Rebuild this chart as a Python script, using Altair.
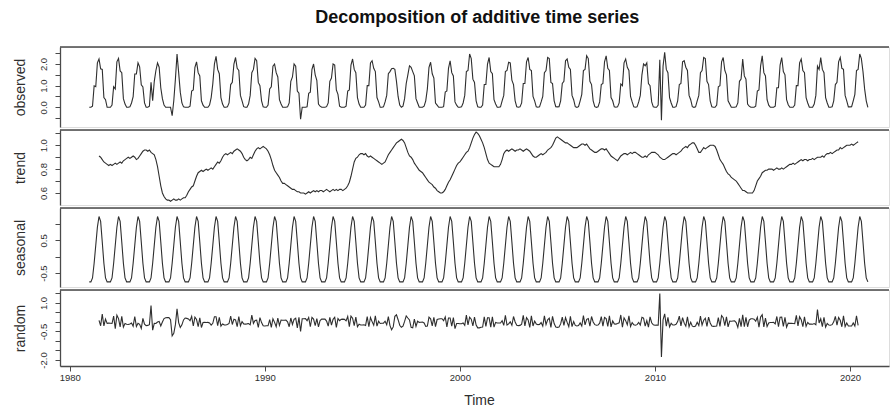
import altair as alt
import pandas as pd

# ---------------- data ----------------
start_year = 1981

seasonal_pattern = [-0.77, -0.77, -0.65, -0.2, 0.35, 0.9, 1.23, 1.08, 0.45, -0.2, -0.65, -0.77]

observed_rows = [
    [0, 0, 0.05, 0.99, 0.95, 2.05, 2.23, 1.78, 1.75, 0.45, 0.35, 0],     # 1981
    [0, 0, 0.1, 0.95, 0.85, 2.1, 2.26, 1.68, 1.6, 0.4, 0.15, 0],         # 1982
    [0, 0.02, 0.2, 0.49, 1.54, 1.54, 2.05, 1.87, 1.04, 0.94, 0.2, 0],    # 1983
    [0, 0.05, 1.15, 0.3, 1.2, 1.7, 2.05, 1.85, 0.9, 0.4, 0.1, 0],        # 1984
    [0, 0, 0, -0.39, 0.3, 1.3, 2.46, 1.6, 0.7, 0.2, 0.02, 0],            # 1985
    [0, 0, 0.05, 0.75, 0.8, 1.85, 2.1, 1.6, 1.45, 0.3, 0.1, 0],          # 1986
    [0, 0, 0.1, 0.45, 1.08, 2.0, 2.35, 1.75, 1.55, 0.45, 0.15, 0],       # 1987
    [0, 0.02, 0.2, 1.05, 1.15, 2.0, 2.3, 1.8, 1.7, 0.55, 0.3, 0.03],     # 1988
    [0, 0, 0.15, 0.55, 1.6, 1.75, 2.26, 2.15, 1.15, 1.0, 0.3, 0.02],     # 1989
    [0, 0, 0.1, 0.85, 0.95, 1.9, 2.0, 1.6, 1.4, 0.35, 0.15, 0],          # 1990
    [0, 0, 0.02, 0.2, 1.2, 1.4, 2.0, 1.9, 0.75, 0.65, -0.55, 0],         # 1991
    [0, 0, 0.02, 0.65, 0.7, 1.75, 2.0, 1.5, 1.25, 0.15, 0.05, 0],        # 1992
    [0, 0, 0.03, 0.2, 1.2, 1.35, 2.0, 1.95, 0.8, 0.6, 0.05, 0],          # 1993
    [0, 0, 0.05, 0.75, 0.8, 1.95, 2.23, 1.75, 1.6, 0.45, 0.15, 0],       # 1994
    [0, 0, 0.1, 1.0, 1.0, 2.05, 2.15, 1.8, 1.65, 0.45, 0.25, 0],         # 1995
    [0, 0.02, 0.25, 0.55, 1.55, 1.65, 1.78, 1.8, 1.75, 1.2, 0.5, 0.1],   # 1996
    [0, 0.05, 0.4, 1.1, 1.5, 1.92, 1.85, 1.65, 1.45, 0.4, 0.2, 0],       # 1997
    [0, 0, 0.05, 0.3, 0.85, 1.85, 2.08, 1.55, 1.35, 0.2, 0.1, 0],        # 1998
    [0, 0, 0.03, 0.7, 0.75, 1.8, 2.15, 1.6, 1.45, 0.25, 0.1, 0],         # 1999
    [0, 0.02, 0.2, 0.55, 1.65, 1.7, 2.46, 2.25, 1.3, 1.15, 0.3, 0.02],   # 2000
    [0, 0, 0.1, 1.05, 1.05, 2.0, 2.3, 1.65, 1.55, 0.35, 0.15, 0],        # 2001
    [0, 0.02, 0.3, 0.55, 1.65, 1.7, 2.08, 2.05, 1.25, 1.05, 0.3, 0.02],  # 2002
    [0, 0.02, 0.2, 1.1, 1.1, 2.1, 2.3, 1.75, 1.7, 0.5, 0.3, 0.02],       # 2003
    [0, 0.02, 0.25, 0.5, 1.6, 1.7, 2.3, 2.25, 1.15, 1.1, 0.3, 0.03],     # 2004
    [0.02, 0.03, 0.3, 1.1, 1.2, 2.15, 2.23, 1.85, 1.75, 0.55, 0.35, 0.03],  # 2005
    [0, 0.03, 0.3, 0.6, 1.7, 1.75, 2.38, 2.25, 1.2, 1.05, 0.3, 0.03],    # 2006
    [0, 0.02, 0.25, 1.05, 1.1, 2.1, 2.38, 1.8, 1.7, 0.45, 0.3, 0.02],    # 2007
    [0, 0.02, 0.2, 1.08, 1.0, 2.05, 2.23, 1.85, 1.7, 0.5, 0.25, 0.02],   # 2008
    [0, 0.02, 0.25, 0.55, 1.5, 2.0, 1.92, 2.05, 1.1, 1.0, 0.25, 0.02],   # 2009
    [0, 0, 0.1, 2.2, -0.6, 1.9, 2.54, 1.75, 1.6, 0.45, 0.2, 0],          # 2010
    [0, 0.03, 0.3, 1.05, 1.1, 2.1, 2.15, 1.85, 1.7, 0.55, 0.35, 0.03],   # 2011
    [0, 0.02, 0.3, 0.55, 1.6, 1.7, 2.3, 2.25, 1.2, 1.05, 0.3, 0.02],     # 2012
    [0, 0, 0.1, 0.95, 1.0, 2.1, 2.3, 1.7, 1.5, 0.3, 0.15, 0],            # 2013
    [0, 0, 0.02, 0.2, 1.2, 1.3, 2.23, 1.45, 1.3, 0.15, 0.05, 0],         # 2014
    [0, 0, 0.05, 0.75, 0.8, 1.9, 2.38, 1.6, 1.45, 0.35, 0.1, 0],         # 2015
    [0, 0, 0.05, 0.9, 0.9, 1.95, 2.3, 1.65, 1.5, 0.35, 0.12, 0],         # 2016
    [0, 0, 0.1, 1.0, 1.0, 2.05, 2.23, 1.7, 1.6, 0.45, 0.2, 0],           # 2017
    [0, 0, 0.15, 0.55, 1.9, 1.75, 2.3, 1.75, 1.6, 0.45, 0.2, 0],         # 2018
    [0, 0.02, 0.3, 1.05, 1.15, 2.1, 2.3, 1.8, 1.75, 0.55, 0.3, 0.02],    # 2019
    [0.02, 0.03, 0.3, 0.6, 1.7, 1.75, 2.46, 2.25, 1.65, 0.85, 0.3, 0.0], # 2020
]

trend_rows = [
    [None, None, None, None, None, None, 0.91, 0.90, 0.88, 0.86, 0.85, 0.84],  # 1981
    [0.83, 0.84, 0.83, 0.84, 0.85, 0.84, 0.85, 0.86, 0.85, 0.87, 0.88, 0.89],  # 1982
    [0.90, 0.89, 0.90, 0.91, 0.90, 0.88, 0.89, 0.91, 0.93, 0.95, 0.96, 0.96],  # 1983
    [0.95, 0.96, 0.94, 0.93, 0.92, 0.88, 0.82, 0.74, 0.66, 0.60, 0.57, 0.55],  # 1984
    [0.54, 0.54, 0.53, 0.54, 0.55, 0.54, 0.54, 0.55, 0.54, 0.55, 0.56, 0.56],  # 1985
    [0.58, 0.61, 0.63, 0.65, 0.66, 0.70, 0.74, 0.77, 0.78, 0.79, 0.78, 0.79],  # 1986
    [0.80, 0.79, 0.80, 0.81, 0.80, 0.82, 0.84, 0.86, 0.85, 0.87, 0.90, 0.92],  # 1987
    [0.93, 0.92, 0.93, 0.94, 0.93, 0.95, 0.96, 0.97, 0.96, 0.95, 0.93, 0.90],  # 1988
    [0.88, 0.87, 0.88, 0.90, 0.89, 0.92, 0.95, 0.97, 0.98, 0.97, 0.98, 0.99],  # 1989
    [0.98, 0.97, 0.95, 0.92, 0.88, 0.83, 0.79, 0.77, 0.75, 0.73, 0.70, 0.68],  # 1990
    [0.68, 0.67, 0.66, 0.65, 0.64, 0.63, 0.63, 0.62, 0.61, 0.61, 0.60, 0.60],  # 1991
    [0.60, 0.59, 0.60, 0.61, 0.60, 0.61, 0.62, 0.61, 0.62, 0.61, 0.62, 0.62],  # 1992
    [0.61, 0.62, 0.63, 0.62, 0.61, 0.62, 0.63, 0.62, 0.63, 0.62, 0.63, 0.63],  # 1993
    [0.62, 0.63, 0.64, 0.66, 0.69, 0.74, 0.80, 0.86, 0.89, 0.90, 0.92, 0.93],  # 1994
    [0.93, 0.92, 0.93, 0.91, 0.90, 0.91, 0.90, 0.89, 0.88, 0.87, 0.86, 0.85],  # 1995
    [0.84, 0.85, 0.86, 0.89, 0.92, 0.94, 0.96, 0.98, 1.00, 1.02, 1.03, 1.04],  # 1996
    [1.05, 1.04, 1.02, 0.98, 0.94, 0.91, 0.90, 0.88, 0.85, 0.83, 0.81, 0.79],  # 1997
    [0.78, 0.77, 0.75, 0.73, 0.71, 0.69, 0.68, 0.67, 0.65, 0.64, 0.62, 0.61],  # 1998
    [0.60, 0.60, 0.61, 0.63, 0.66, 0.69, 0.71, 0.74, 0.77, 0.80, 0.83, 0.85],  # 1999
    [0.86, 0.88, 0.90, 0.92, 0.94, 0.95, 0.98, 1.02, 1.06, 1.09, 1.11, 1.10],  # 2000
    [1.08, 1.05, 1.02, 0.98, 0.93, 0.88, 0.85, 0.84, 0.83, 0.82, 0.82, 0.82],  # 2001
    [0.82, 0.84, 0.88, 0.93, 0.95, 0.96, 0.95, 0.96, 0.97, 0.96, 0.95, 0.96],  # 2002
    [0.96, 0.97, 0.96, 0.95, 0.96, 0.97, 0.96, 0.95, 0.93, 0.91, 0.90, 0.90],  # 2003
    [0.91, 0.92, 0.93, 0.92, 0.93, 0.94, 0.96, 0.97, 0.98, 1.00, 1.03, 1.06],  # 2004
    [1.07, 1.06, 1.05, 1.04, 1.03, 1.02, 1.02, 1.01, 1.00, 0.99, 0.98, 0.98],  # 2005
    [0.98, 0.99, 1.00, 1.01, 1.01, 1.00, 1.01, 0.99, 0.97, 0.96, 0.95, 0.94],  # 2006
    [0.94, 0.95, 0.96, 0.97, 0.97, 0.96, 0.97, 0.95, 0.93, 0.91, 0.90, 0.89],  # 2007
    [0.88, 0.87, 0.89, 0.91, 0.92, 0.93, 0.93, 0.92, 0.93, 0.94, 0.93, 0.94],  # 2008
    [0.94, 0.93, 0.92, 0.91, 0.90, 0.90, 0.91, 0.90, 0.92, 0.93, 0.94, 0.94],  # 2009
    [0.94, 0.93, 0.92, 0.90, 0.89, 0.88, 0.88, 0.89, 0.90, 0.91, 0.92, 0.93],  # 2010
    [0.93, 0.92, 0.93, 0.94, 0.95, 0.97, 0.98, 0.99, 0.98, 1.00, 1.01, 1.02],  # 2011
    [1.02, 1.00, 0.97, 0.94, 0.94, 0.96, 0.98, 0.97, 0.98, 0.99, 1.00, 1.00],  # 2012
    [1.00, 0.99, 0.96, 0.92, 0.88, 0.86, 0.84, 0.81, 0.78, 0.76, 0.75, 0.73],  # 2013
    [0.72, 0.71, 0.70, 0.68, 0.66, 0.64, 0.62, 0.62, 0.61, 0.60, 0.60, 0.60],  # 2014
    [0.60, 0.62, 0.66, 0.70, 0.72, 0.74, 0.77, 0.78, 0.79, 0.79, 0.80, 0.80],  # 2015
    [0.80, 0.79, 0.80, 0.81, 0.80, 0.80, 0.81, 0.80, 0.81, 0.82, 0.83, 0.84],  # 2016
    [0.84, 0.85, 0.84, 0.85, 0.86, 0.87, 0.88, 0.87, 0.88, 0.88, 0.87, 0.88],  # 2017
    [0.88, 0.89, 0.88, 0.89, 0.90, 0.90, 0.90, 0.91, 0.90, 0.92, 0.93, 0.93],  # 2018
    [0.94, 0.93, 0.94, 0.95, 0.96, 0.96, 0.98, 0.97, 0.98, 0.99, 1.00, 1.00],  # 2019
    [1.00, 1.01, 1.00, 1.01, 1.02, 1.03, None, None, None, None, None, None],  # 2020
]

# axis ticks and labels
x_ticks = [1980, 1990, 2000, 2010, 2020]
observed_ticks = [-0.5, 0.0, 0.5, 1.0, 1.5, 2.0, 2.5]
observed_labels = [0.0, 1.0, 2.0]
trend_ticks = [0.6, 0.7, 0.8, 0.9, 1.0, 1.1]
trend_labels = [0.6, 0.8, 1.0]
seasonal_ticks = [-0.5, 0.0, 0.5, 1.0]
seasonal_labels = [-0.5, 0.5]
random_ticks = [-2.0, -1.5, -1.0, -0.5, 0.0, 0.5, 1.0, 1.5]
random_labels = [-2.0, -0.5, 1.0]

# ---------------- build tables ----------------
obs_rec, trend_rec, seas_rec, rand_rec = [], [], [], []
for yi, (orow, trow) in enumerate(zip(observed_rows, trend_rows)):
    for m in range(12):
        t = start_year + yi + m / 12.0
        o = orow[m]
        s = seasonal_pattern[m]
        obs_rec.append({"t": t, "v": o})
        seas_rec.append({"t": t, "v": s})
        if trow[m] is not None:
            trend_rec.append({"t": t, "v": trow[m]})
            rand_rec.append({"t": t, "v": o - trow[m] - s})

df_obs = pd.DataFrame(obs_rec)
df_trend = pd.DataFrame(trend_rec)
df_seas = pd.DataFrame(seas_rec)
df_rand = pd.DataFrame(rand_rec)

# ---------------- layout ----------------
W = 829
X_DOMAIN = [1979.5, 2022.0]
FONT = "Liberation Sans"
INK = "#2e2e2e"
FRAME = "#4a4a4a"


def label_expr(labels):
    parts = []
    for v in labels:
        txt = f"{v:.1f}"
        parts.append(f"abs(datum.value - ({v})) < 1e-6 ? '{txt}'")
    return " : ".join(parts) + " : ''"


def panel(df, name, domain, ticks, labels, height, bottom=False):
    if bottom:
        xaxis = alt.Axis(values=x_ticks, format="d", title="Time", tickSize=5,
                         labelFontSize=9.5, labelFont=FONT, labelColor=INK,
                         labelPadding=1, labelFlush=False, labelOverlap=False,
                         titleFont=FONT, titleFontSize=14, titleFontWeight="normal",
                         titleColor=INK, titlePadding=12, titleX=419,
                         domainColor=FRAME, domainWidth=1.3, tickColor=FRAME, grid=False)
    else:
        xaxis = None
    yaxis = alt.Axis(values=ticks, labelExpr=label_expr(labels), title=name,
                     tickSize=5, labelAngle=-90, labelAlign="center",
                     labelBaseline="bottom", labelPadding=7, labelFontSize=9.5,
                     labelFont=FONT, labelColor=INK, labelOverlap=False,
                     labelFlush=False, titleFont=FONT, titleFontSize=14,
                     titleFontWeight="normal", titleColor=INK, titlePadding=11,
                     domainColor=FRAME, domainWidth=1.3, tickColor=FRAME, grid=False)
    line = alt.Chart(df).mark_line(color=INK, strokeWidth=1.1, clip=True).encode(
        x=alt.X("t:Q", scale=alt.Scale(domain=X_DOMAIN, nice=False, zero=False), axis=xaxis),
        y=alt.Y("v:Q", scale=alt.Scale(domain=domain, nice=False, zero=False), axis=yaxis),
    )
    top = alt.Chart(pd.DataFrame({"k": [0]})).mark_rule(color=FRAME, strokeWidth=1.3).encode(
        x=alt.value(0), x2=alt.value(W), y=alt.value(0)
    )
    return alt.layer(line, top).properties(width=W, height=height)


p1 = panel(df_obs, "observed", [-0.91, 2.785], observed_ticks, observed_labels, 80)
p2 = panel(df_trend, "trend", [0.499, 1.128], trend_ticks, trend_labels, 75)
p3 = panel(df_seas, "seasonal", [-0.927, 1.49], seasonal_ticks, seasonal_labels, 79)
p4 = panel(df_rand, "random", [-2.316, 1.684], random_ticks, random_labels, 76, bottom=True)

chart = alt.vconcat(p1, p2, p3, p4, spacing=0).properties(
    title=alt.TitleParams("Decomposition of additive time series", font=FONT,
                          fontSize=18, fontWeight="bold", color="#111",
                          anchor="middle", offset=19, dx=26),
    padding={"left": 12, "top": 8, "right": 0, "bottom": 0},
).configure_view(stroke=None).configure(background="white")

chart.save("out.html", embed_options={"renderer": "svg", "actions": False})
